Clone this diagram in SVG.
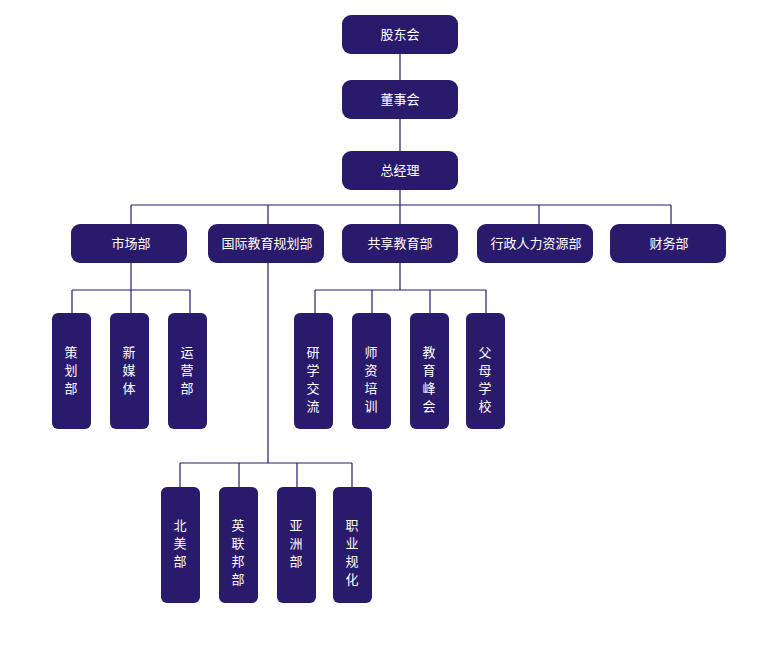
<svg xmlns="http://www.w3.org/2000/svg" width="780" height="654" viewBox="0 0 780 654">
<style>
.n{fill:#2a1a6c}
.t{fill:#fff;font-family:"Noto Sans CJK SC","Noto Sans",sans-serif;font-size:13px;text-anchor:middle}
.c{stroke:#2a1a6c;stroke-width:1.2;fill:none}
</style>
<rect width="780" height="654" fill="#fff"/>
<g id="connectors" class="c">
<path d="M400 54V80M400 119V151M400 190V205M131 205H671M131 205V224M268 205V224M400 205V224M539 205V224M671 205V224"/>
<path d="M131 263V290M72 290H190M72 290V313M131 290V313M190 290V313"/>
<path d="M400 263V290M315 290H486M315 290V313M372 290V313M430 290V313M486 290V313"/>
<path d="M268 263V463M180 463H352M180 463V487M239 463V487M297 463V487M352 463V487"/>
</g>
<g id="gudong"><rect class="n" x="342" y="15" width="116" height="39" rx="9"/><text class="t" x="400" y="39">股东会</text></g>
<g id="dongshi"><rect class="n" x="342" y="80" width="116" height="39" rx="9"/><text class="t" x="400" y="104">董事会</text></g>
<g id="zongjingli"><rect class="n" x="342" y="151" width="116" height="39" rx="9"/><text class="t" x="400" y="175">总经理</text></g>
<g id="shichang"><rect class="n" x="71" y="224" width="116" height="39" rx="9"/><text class="t" x="131" y="248">市场部</text></g>
<g id="guoji"><rect class="n" x="208" y="224" width="116" height="39" rx="9"/><text class="t" x="267" y="248">国际教育规划部</text></g>
<g id="gongxiang"><rect class="n" x="342" y="224" width="116" height="39" rx="9"/><text class="t" x="400" y="248">共享教育部</text></g>
<g id="xingzheng"><rect class="n" x="477" y="224" width="116" height="39" rx="9"/><text class="t" x="536" y="248">行政人力资源部</text></g>
<g id="caiwu"><rect class="n" x="610" y="224" width="116" height="39" rx="9"/><text class="t" x="669" y="248">财务部</text></g>
<g id="cehua"><rect class="n" x="52" y="313" width="39" height="116" rx="6"/><text class="t" x="71"><tspan x="71" y="357">策</tspan><tspan x="71" y="375">划</tspan><tspan x="71" y="393">部</tspan></text></g>
<g id="xinmeiti"><rect class="n" x="110" y="313" width="39" height="116" rx="6"/><text class="t"><tspan x="129" y="357">新</tspan><tspan x="129" y="375">媒</tspan><tspan x="129" y="393">体</tspan></text></g>
<g id="yunying"><rect class="n" x="168" y="313" width="39" height="116" rx="6"/><text class="t"><tspan x="187" y="357">运</tspan><tspan x="187" y="375">营</tspan><tspan x="187" y="393">部</tspan></text></g>
<g id="yanxue"><rect class="n" x="294" y="313" width="39" height="116" rx="6"/><text class="t"><tspan x="313" y="357">研</tspan><tspan x="313" y="375">学</tspan><tspan x="313" y="393">交</tspan><tspan x="313" y="411">流</tspan></text></g>
<g id="shizi"><rect class="n" x="352" y="313" width="39" height="116" rx="6"/><text class="t"><tspan x="371" y="357">师</tspan><tspan x="371" y="375">资</tspan><tspan x="371" y="393">培</tspan><tspan x="371" y="411">训</tspan></text></g>
<g id="jiaoyu"><rect class="n" x="410" y="313" width="39" height="116" rx="6"/><text class="t"><tspan x="429" y="357">教</tspan><tspan x="429" y="375">育</tspan><tspan x="429" y="393">峰</tspan><tspan x="429" y="411">会</tspan></text></g>
<g id="fumu"><rect class="n" x="466" y="313" width="39" height="116" rx="6"/><text class="t"><tspan x="485" y="357">父</tspan><tspan x="485" y="375">母</tspan><tspan x="485" y="393">学</tspan><tspan x="485" y="411">校</tspan></text></g>
<g id="beimei"><rect class="n" x="161" y="487" width="39" height="116" rx="6"/><text class="t"><tspan x="180" y="530">北</tspan><tspan x="180" y="548">美</tspan><tspan x="180" y="566">部</tspan></text></g>
<g id="yinglian"><rect class="n" x="219" y="487" width="39" height="116" rx="6"/><text class="t"><tspan x="238" y="530">英</tspan><tspan x="238" y="548">联</tspan><tspan x="238" y="566">邦</tspan><tspan x="238" y="584">部</tspan></text></g>
<g id="yazhou"><rect class="n" x="277" y="487" width="39" height="116" rx="6"/><text class="t"><tspan x="296" y="530">亚</tspan><tspan x="296" y="548">洲</tspan><tspan x="296" y="566">部</tspan></text></g>
<g id="zhiye"><rect class="n" x="333" y="487" width="39" height="116" rx="6"/><text class="t"><tspan x="352" y="530">职</tspan><tspan x="352" y="548">业</tspan><tspan x="352" y="566">规</tspan><tspan x="352" y="584">化</tspan></text></g>
</svg>
